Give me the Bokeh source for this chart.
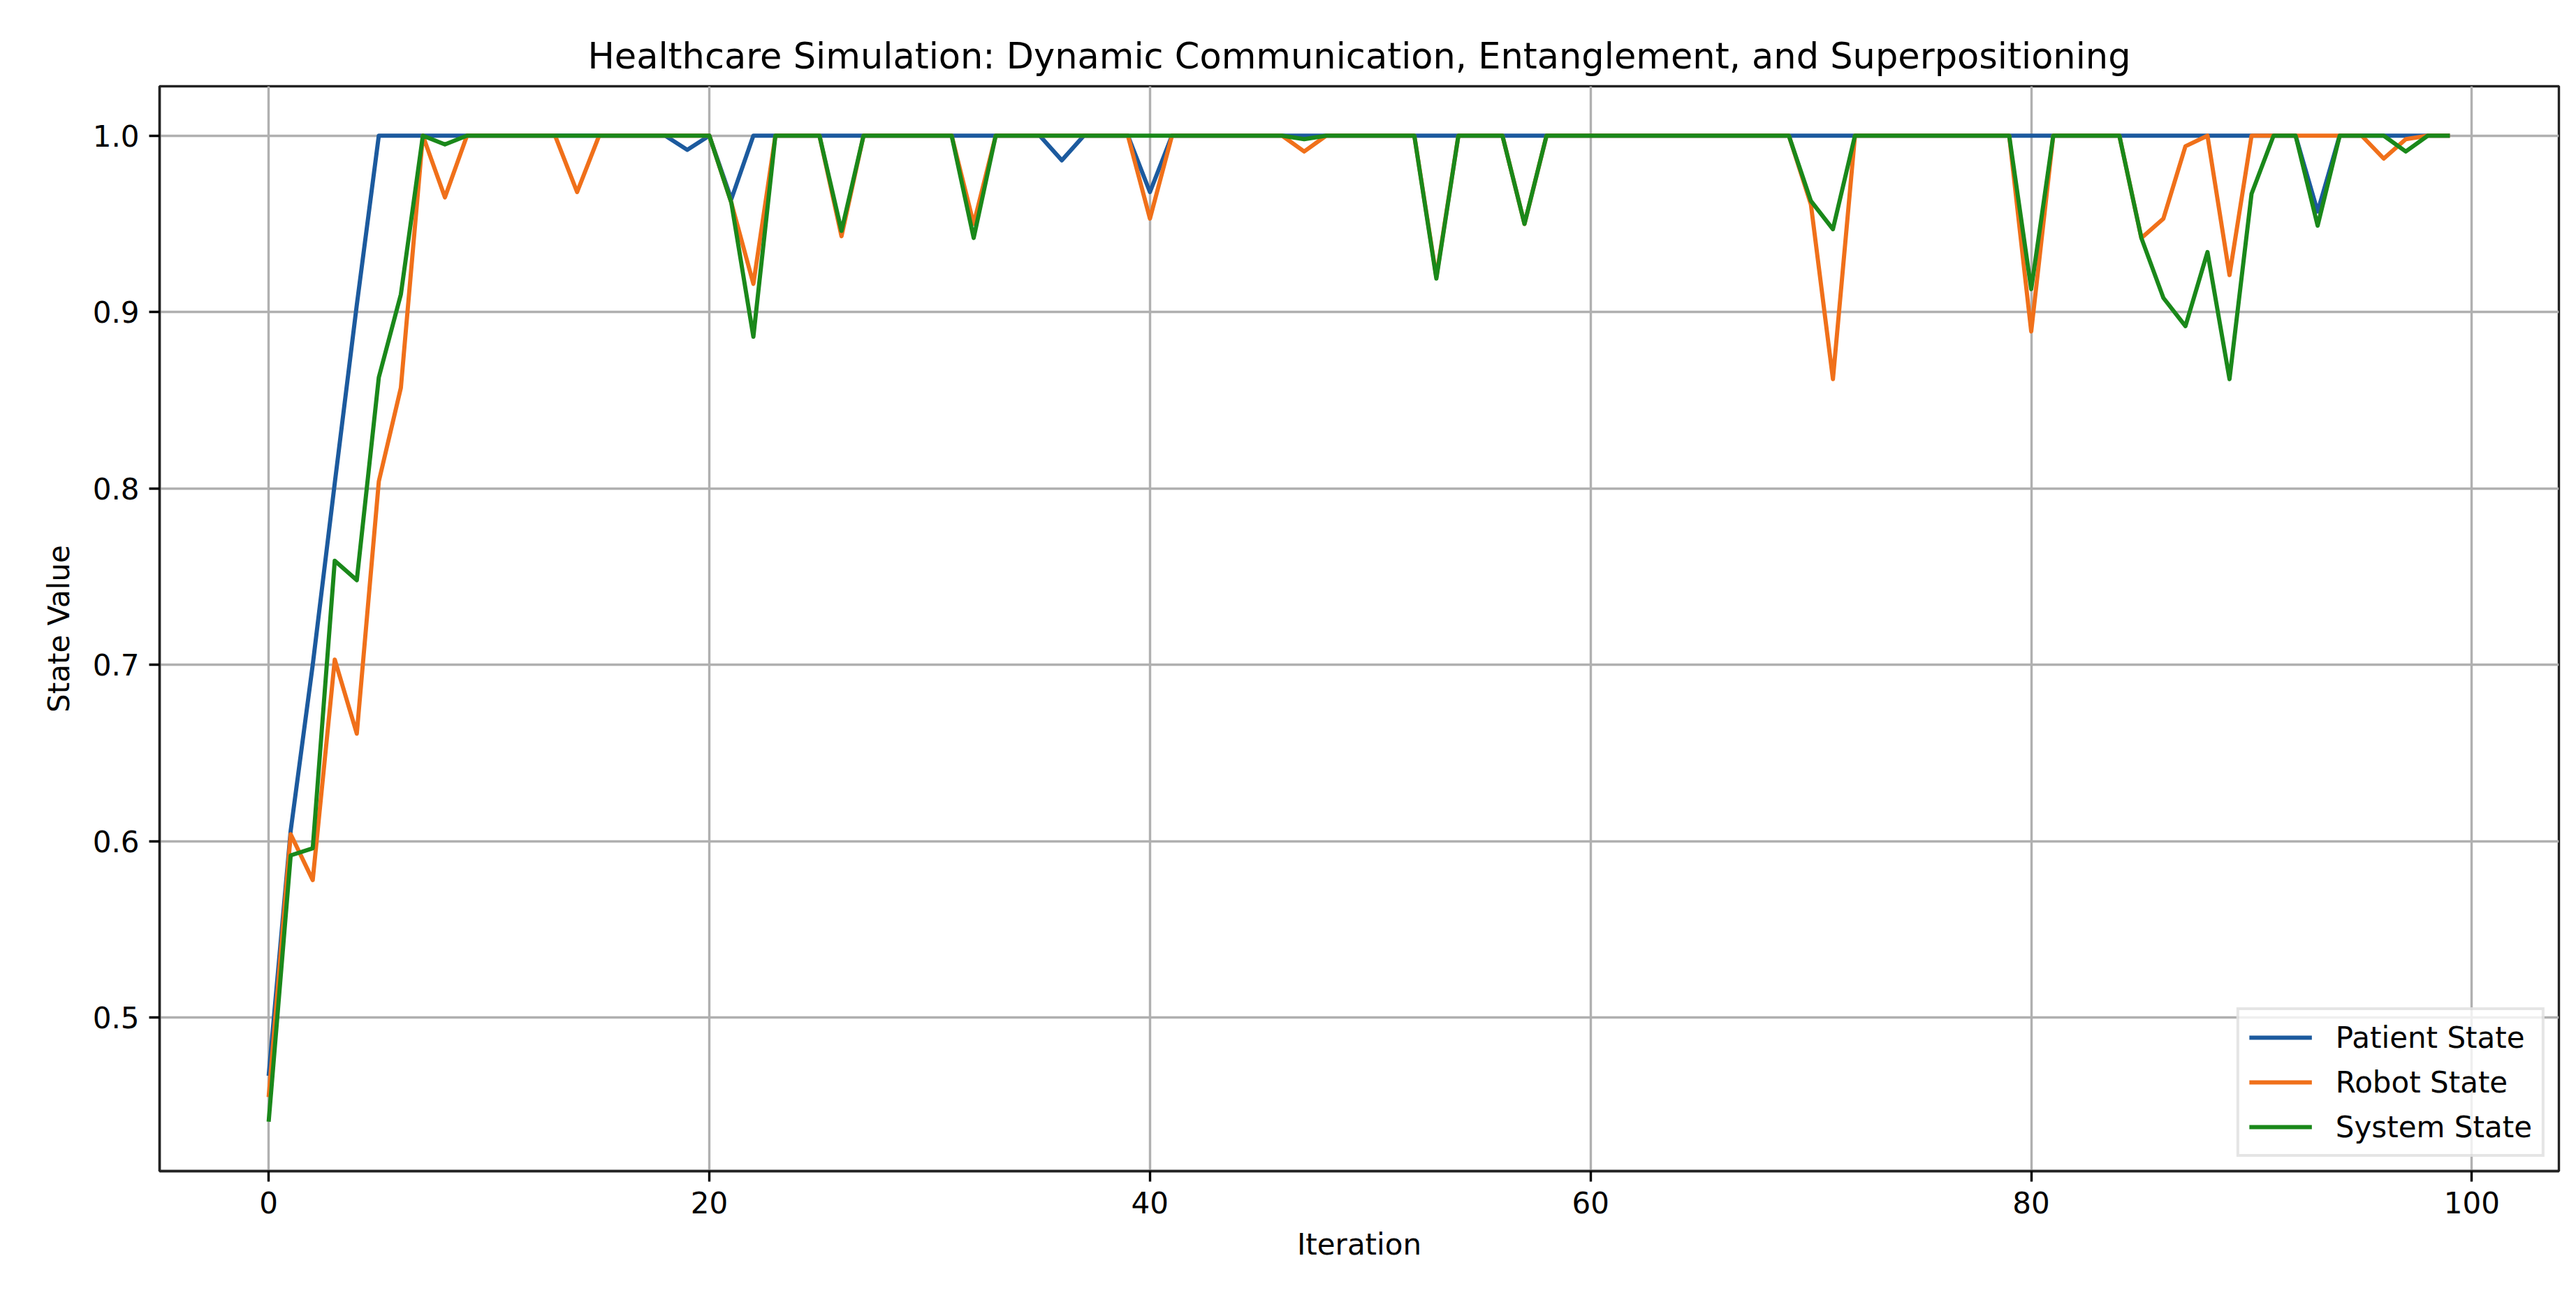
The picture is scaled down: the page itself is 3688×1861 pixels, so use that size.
from bokeh.plotting import figure
from bokeh.models import Range1d, FixedTicker, NumeralTickFormatter
from bokeh.embed import file_html
from bokeh.resources import INLINE

# ---- data ----
iterations = list(range(100))

patient_state = [
    0.467, 0.606, 0.700, 0.803, 0.904, 1.0, 1.0, 1.0, 1.0, 1.0,
    1.0, 1.0, 1.0, 1.0, 1.0, 1.0, 1.0, 1.0, 1.0, 0.992,
    1.0, 0.964, 1.0, 1.0, 1.0, 1.0, 1.0, 1.0, 1.0, 1.0,
    1.0, 1.0, 1.0, 1.0, 1.0, 1.0, 0.986, 1.0, 1.0, 1.0,
    0.968, 1.0, 1.0, 1.0, 1.0, 1.0, 1.0, 1.0, 1.0, 1.0,
    1.0, 1.0, 1.0, 1.0, 1.0, 1.0, 1.0, 1.0, 1.0, 1.0,
    1.0, 1.0, 1.0, 1.0, 1.0, 1.0, 1.0, 1.0, 1.0, 1.0,
    1.0, 1.0, 1.0, 1.0, 1.0, 1.0, 1.0, 1.0, 1.0, 1.0,
    1.0, 1.0, 1.0, 1.0, 1.0, 1.0, 1.0, 1.0, 1.0, 1.0,
    1.0, 1.0, 1.0, 0.957, 1.0, 1.0, 1.0, 1.0, 1.0, 1.0,
]

robot_state = [
    0.455, 0.604, 0.578, 0.703, 0.661, 0.804, 0.857, 1.0, 0.965, 1.0,
    1.0, 1.0, 1.0, 1.0, 0.968, 1.0, 1.0, 1.0, 1.0, 1.0,
    1.0, 0.962, 0.916, 1.0, 1.0, 1.0, 0.943, 1.0, 1.0, 1.0,
    1.0, 1.0, 0.950, 1.0, 1.0, 1.0, 1.0, 1.0, 1.0, 1.0,
    0.953, 1.0, 1.0, 1.0, 1.0, 1.0, 1.0, 0.991, 1.0, 1.0,
    1.0, 1.0, 1.0, 0.920, 1.0, 1.0, 1.0, 0.950, 1.0, 1.0,
    1.0, 1.0, 1.0, 1.0, 1.0, 1.0, 1.0, 1.0, 1.0, 1.0,
    0.961, 0.862, 1.0, 1.0, 1.0, 1.0, 1.0, 1.0, 1.0, 1.0,
    0.889, 1.0, 1.0, 1.0, 1.0, 0.942, 0.953, 0.994, 1.0, 0.921,
    1.0, 1.0, 1.0, 1.0, 1.0, 1.0, 0.987, 0.998, 1.0, 1.0,
]

system_state = [
    0.441, 0.592, 0.596, 0.759, 0.748, 0.863, 0.910, 1.0, 0.995, 1.0,
    1.0, 1.0, 1.0, 1.0, 1.0, 1.0, 1.0, 1.0, 1.0, 1.0,
    1.0, 0.962, 0.886, 1.0, 1.0, 1.0, 0.946, 1.0, 1.0, 1.0,
    1.0, 1.0, 0.942, 1.0, 1.0, 1.0, 1.0, 1.0, 1.0, 1.0,
    1.0, 1.0, 1.0, 1.0, 1.0, 1.0, 1.0, 0.998, 1.0, 1.0,
    1.0, 1.0, 1.0, 0.919, 1.0, 1.0, 1.0, 0.950, 1.0, 1.0,
    1.0, 1.0, 1.0, 1.0, 1.0, 1.0, 1.0, 1.0, 1.0, 1.0,
    0.963, 0.947, 1.0, 1.0, 1.0, 1.0, 1.0, 1.0, 1.0, 1.0,
    0.913, 1.0, 1.0, 1.0, 1.0, 0.942, 0.908, 0.892, 0.934, 0.862,
    0.967, 1.0, 1.0, 0.949, 1.0, 1.0, 1.0, 0.991, 1.0, 1.0,
]

series_labels = ["Patient State", "Robot State", "System State"]
x_ticks = [0, 20, 40, 60, 80, 100]
y_ticks = [0.5, 0.6, 0.7, 0.8, 0.9, 1.0]

title_text = "Healthcare Simulation: Dynamic Communication, Entanglement, and Superpositioning"
x_label = "Iteration"
y_label = "State Value"

# ---- styling ----
FONT = "DejaVu Sans"
colors = ["#1c5a9e", "#f0701a", "#1a881a"]

p = figure(
    width=3680, height=1845,
    output_backend="svg", toolbar_location=None,
    x_range=Range1d(-4.95, 103.95), y_range=Range1d(0.413, 1.028),
    min_border_left=228, min_border_right=17,
    min_border_top=123, min_border_bottom=169,
    title=title_text,
)

p.background_fill_color = "white"
p.border_fill_color = "white"
p.outline_line_color = "#222222"
p.outline_line_width = 3.4

p.title.text_font = FONT
p.title.text_font_size = "51px"
p.title.text_font_style = "normal"
p.title.text_color = "black"
p.title.align = "center"
p.title.standoff = 27

p.xaxis.ticker = FixedTicker(ticks=x_ticks)
p.yaxis.ticker = FixedTicker(ticks=y_ticks)
p.yaxis.formatter = NumeralTickFormatter(format="0.0")
p.xaxis.axis_label = x_label
p.yaxis.axis_label = y_label

for ax in (p.xaxis, p.yaxis):
    ax.axis_line_color = "#222222"
    ax.axis_line_width = 3.4
    ax.major_tick_out = 15
    ax.major_tick_in = 0
    ax.major_tick_line_width = 3.4
    ax.major_tick_line_color = "black"
    ax.minor_tick_line_color = None
    ax.major_label_text_font = FONT
    ax.major_label_text_font_size = "42px"
    ax.major_label_text_color = "black"
    ax.major_label_standoff = 14
    ax.axis_label_text_font = FONT
    ax.axis_label_text_font_size = "42px"
    ax.axis_label_text_font_style = "normal"
    ax.axis_label_text_color = "black"
    ax.axis_label_standoff = 17

p.yaxis.axis_label_standoff = 21

p.xgrid.ticker = FixedTicker(ticks=x_ticks)
p.ygrid.ticker = FixedTicker(ticks=y_ticks)
p.grid.grid_line_color = "#b0b0b0"
p.grid.grid_line_width = 3.4

for ys, c, lab in zip([patient_state, robot_state, system_state], colors, series_labels):
    p.line(iterations, ys, line_color=c, line_width=6, line_join="round", legend_label=lab)

lg = p.legend[0]
lg.location = "bottom_right"
lg.margin = 20
lg.padding = 14
lg.spacing = 14
lg.glyph_width = 90
lg.glyph_height = 50
lg.label_height = 50
lg.label_standoff = 34
lg.label_text_font = FONT
lg.label_text_font_size = "42px"
lg.label_text_color = "black"
lg.border_line_color = "#cccccc"
lg.border_line_width = 4
lg.background_fill_color = "white"
lg.background_fill_alpha = 0.8

open("out.html", "w").write(file_html(p, INLINE))
